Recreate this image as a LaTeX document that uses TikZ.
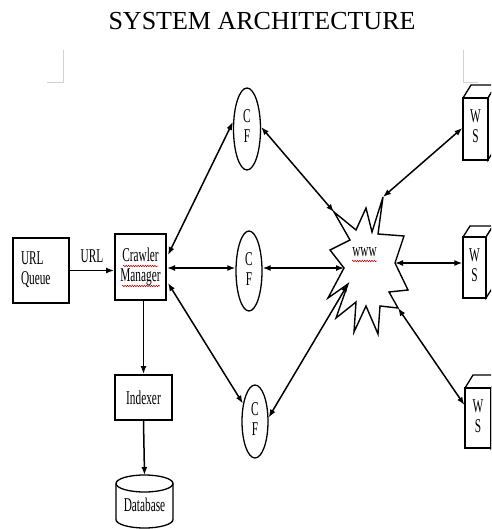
\documentclass[tikz,border=0pt]{standalone}
\usepackage{fontspec}
\setmainfont{Liberation Serif}
\usepackage{graphicx}
\usetikzlibrary{arrows.meta,calc,shapes.geometric,decorations.pathmorphing}
\newcommand{\sq}[1]{\scalebox{0.58}[1]{#1}}
\newcommand{\sqz}[1]{\scalebox{0.58}[1]{\begin{tabular}{@{}c@{}}#1\end{tabular}}}
\newcommand{\sqzl}[1]{\makebox[40pt][l]{\scalebox{0.58}[1]{\begin{tabular}{@{}l@{}}#1\end{tabular}}}}
\begin{document}
\begin{tikzpicture}[x=1pt,y=-1pt,
  every node/.style={font=\fontsize{19.5}{20}\selectfont, inner sep=0pt},
  box/.style={draw, line width=2pt, rectangle},
  cfnode/.style={draw, ellipse, line width=1.3pt},
  face/.style={draw, line width=1.3pt, fill=white, line join=miter},
  front/.style={draw, line width=1.3pt, fill=white, rectangle},
  link/.style={line width=1.5pt, {Latex[length=8pt,width=6pt]}-{Latex[length=8pt,width=6pt]}},
  oneway/.style={line width=1.5pt, -{Latex[length=8pt,width=6pt]}},
  wavy/.style={red!75!black, line width=0.5pt, decorate, decoration={snake, amplitude=0.8pt, segment length=2.4pt}},
  corner/.style={gray!35, line width=0.8pt}
]
\useasboundingbox (0,0) rectangle (491,529);
\clip (0,0) rectangle (491,529);

% title
\node[anchor=base, font=\fontsize{26}{30}\selectfont] (title) at (262,30) {SYSTEM ARCHITECTURE};

% corner marks
\draw[corner] (47,82) -- (63,82) -- (63,50);
\draw[corner] (463,50) -- (463,82) -- (478,82);

% left boxes
\node[box, minimum width=56pt, minimum height=65pt] (uq) at (41,270.5) {\sqzl{URL\\Queue}};
\node[box, minimum width=51pt, minimum height=66pt] (cm) at (140.5,267) {\sqz{Crawler\\Manager}};
\draw[wavy] (123,266) -- (158,266);
\draw[wavy] (122,286) -- (160,286);
\node[box, minimum width=57pt, minimum height=45pt] (idx) at (143.5,397.5) {\sq{Indexer}};

% database cylinder
\draw[line width=1.3pt] (116,483.5) -- (116,519.5) arc[start angle=180, end angle=360, x radius=28.5pt, y radius=8.5pt] -- (173,483.5);
\draw[line width=1.3pt] (144.5,483.5) ellipse[x radius=28.5pt, y radius=8.5pt];
\coordinate (dbtop) at (144.5,475);
\node (db) at (144.5,505) {\sq{Database}};

% CF nodes
\node[cfnode, minimum width=27pt, minimum height=82pt] (cf1) at (247,129) {\sqz{C\\F}};
\node[cfnode, minimum width=26pt, minimum height=80pt] (cf2) at (249,271) {\sqz{C\\F}};
\node[cfnode, minimum width=26pt, minimum height=73pt] (cf3) at (255,421.5) {\sqz{C\\F}};

% WWW star
\draw[line width=1.4pt, line join=miter, fill=white]
  (383,197) -- (378,234) -- (404,236) -- (395,263) -- (408,290) -- (389,292) --
  (398,308) -- (380,306) -- (378,334) -- (366,306) -- (354,332) -- (356,302) --
  (336,318) -- (348,284) -- (328,298) -- (344,268) -- (330,250) -- (350,240) --
  (334,212) -- (356,230) -- (366,208) -- (372,232) -- cycle;
\node (www) at (364.5,252) {\sq{www}};
\draw[wavy] (352,261) -- (377,261);
\coordinate (wcf1) at (334,212);
\coordinate (wcf2) at (344,268);
\coordinate (wcf3) at (348,284);
\coordinate (wws1) at (383,197);
\coordinate (wws2) at (395,263);
\coordinate (wws3) at (398,308);

% WS cubes
\draw[face] (463,98) -- (471,85) -- (496,85) -- (488,98) -- cycle;
\draw[face] (488,98) -- (496,85) -- (496,147) -- (488,160) -- cycle;
\node[front, minimum width=25pt, minimum height=62pt] (ws1) at (475.5,129) {\sqz{W\\S}};

\draw[face] (463,237) -- (470,226) -- (493,226) -- (486,237) -- cycle;
\draw[face] (486,237) -- (493,226) -- (493,287) -- (486,298) -- cycle;
\node[front, minimum width=23pt, minimum height=61pt] (ws2) at (474.5,267.5) {\sqz{W\\S}};

\draw[face] (465,388) -- (473,375) -- (499,375) -- (491,388) -- cycle;
\draw[face] (491,388) -- (499,375) -- (499,435) -- (491,448) -- cycle;
\node[front, minimum width=26pt, minimum height=60pt] (ws3) at (478,418) {\sqz{W\\S}};

% connectors
\draw[oneway] (uq.east) -- (uq.east -| cm.west);
\node[anchor=base] (urllbl) at (92,262) {\sq{URL}};
\draw[oneway] (cm.south -| idx.north) -- (idx.north);
\draw[oneway] (idx.south) -- (dbtop);

\draw[link] ($(cm.east)+(1,-12)$) -- ($(cf1.west)+(0,-7)$);
\draw[link] ($(cm.east)+(0,1)$) -- ($(cf2.west)+(0,-3)$);
\draw[link] ($(cm.east)+(1,16)$) -- ($(cf3.west)+(1.5,-18)$);

\draw[link] ($(cf1.east)+(0,-2)$) -- (wcf1);
\draw[link] ($(cf2.east)+(0,-3)$) -- (wcf2);
\draw[link] ($(cf3.east)+(0,-4)$) -- (wcf3);

\draw[link] (wws1) -- ($(ws1.west)+(0,-1)$);
\draw[link] (wws2) -- ($(ws2.west)+(0,-4.5)$);
\draw[link] (wws3) -- ($(ws3.west)+(0,-13)$);
\end{tikzpicture}
\end{document}
